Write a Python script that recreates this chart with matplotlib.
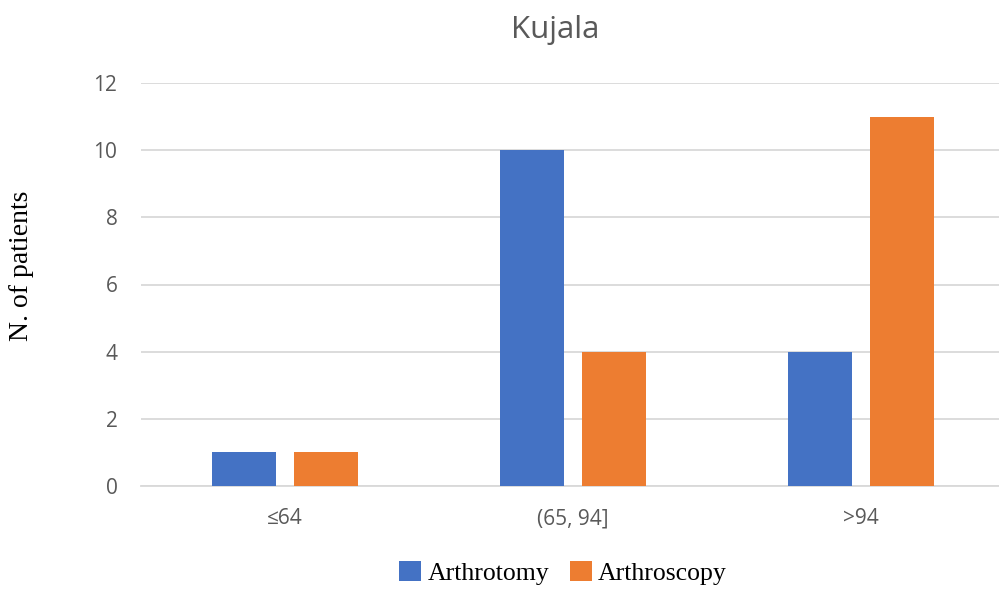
import matplotlib.pyplot as plt
import numpy as np

categories = ["≤64", "(65, 94]", ">94"]
arthrotomy = [1, 10, 4]
arthroscopy = [1, 4, 11]
y_ticks = [0, 2, 4, 6, 8, 10, 12]

fig = plt.figure(figsize=(9.99, 5.94), dpi=100)
ax = fig.add_axes([141 / 999, (594 - 486) / 594, (999 - 141) / 999, (486 - 83) / 594])

x = np.arange(len(categories))
w = 0.224
off = 0.1417
ax.bar(x - off, arthrotomy, w, color="#4472C4", label="Arthrotomy", zorder=3)
ax.bar(x + off, arthroscopy, w, color="#ED7D31", label="Arthroscopy", zorder=3)

ax.set_xlim(-0.5, 2.479)
ax.set_ylim(0, 12)
ax.set_yticks(y_ticks)
ax.set_xticks(x)
ax.set_xticklabels(categories)
ax.yaxis.grid(True, color="#D9D9D9", linewidth=1.3, zorder=0)
for s in ["top", "right", "left"]:
    ax.spines[s].set_visible(False)
ax.spines["bottom"].set_color("#D9D9D9")
ax.spines["bottom"].set_linewidth(1.3)
ax.tick_params(axis="both", length=0, colors="#595959", labelsize=15)
ax.tick_params(axis="y", pad=17)
ax.tick_params(axis="x", pad=16)
for lab in ax.get_xticklabels() + ax.get_yticklabels():
    lab.set_family(["Open Sans", "DejaVu Sans"])

# y label sits a bit above the plot middle, like the original
fig.text(22 / 999, 1 - 266 / 594, "N. of patients", rotation=90, ha="center", va="center",
         family="Liberation Serif", fontsize=20)
fig.text(555 / 999, 1 - 38 / 594, "Kujala", ha="center", va="baseline",
         fontsize=22.5, color="#595959", family="Open Sans")

leg = fig.legend(loc="center", bbox_to_anchor=(563 / 999, 1 - 573 / 594), ncol=2,
                 frameon=False, prop={"family": "Liberation Serif", "size": 18.5},
                 handlelength=0.85, handleheight=0.85, handletextpad=0.25,
                 columnspacing=0.8)

fig.savefig("out.png", dpi=100)
